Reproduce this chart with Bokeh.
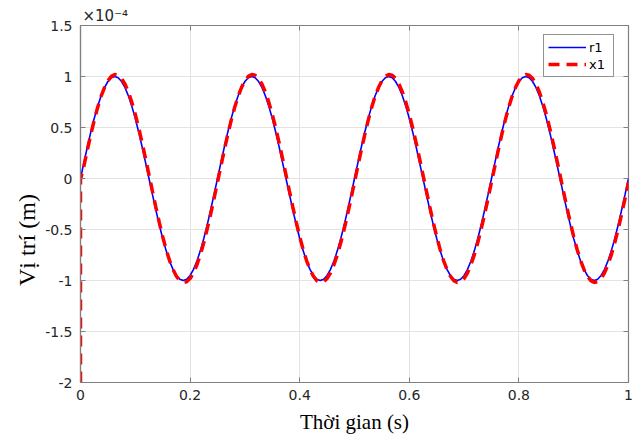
from bokeh.plotting import figure
from bokeh.models import LinearAxis, Legend, LegendItem, FixedTicker, Range1d
from bokeh.embed import file_html
from bokeh.resources import INLINE

# ---- data (position values in units of 1e-4 m) ----
x_ticks = [0, 0.2, 0.4, 0.6, 0.8, 1.0]
x_tick_labels = ["0", "0.2", "0.4", "0.6", "0.8", "1"]
y_ticks = [-2, -1.5, -1, -0.5, 0, 0.5, 1, 1.5]
y_tick_labels = ["-2", "-1.5", "-1", "-0.5", "0", "0.5", "1", "1.5"]

dt = 0.00625
time_s = [round(i * dt, 5) for i in range(161)]

r1 = [
    0.000, 0.156, 0.309, 0.454, 0.588, 0.707, 0.809, 0.891, 0.951, 0.988,
    1.000, 0.988, 0.951, 0.891, 0.809, 0.707, 0.588, 0.454, 0.309, 0.156,
    0.000, -0.156, -0.309, -0.454, -0.588, -0.707, -0.809, -0.891, -0.951, -0.988,
    -1.000, -0.988, -0.951, -0.891, -0.809, -0.707, -0.588, -0.454, -0.309, -0.156,
    0.000, 0.156, 0.309, 0.454, 0.588, 0.707, 0.809, 0.891, 0.951, 0.988,
    1.000, 0.988, 0.951, 0.891, 0.809, 0.707, 0.588, 0.454, 0.309, 0.156,
    0.000, -0.156, -0.309, -0.454, -0.588, -0.707, -0.809, -0.891, -0.951, -0.988,
    -1.000, -0.988, -0.951, -0.891, -0.809, -0.707, -0.588, -0.454, -0.309, -0.156,
    0.000, 0.156, 0.309, 0.454, 0.588, 0.707, 0.809, 0.891, 0.951, 0.988,
    1.000, 0.988, 0.951, 0.891, 0.809, 0.707, 0.588, 0.454, 0.309, 0.156,
    0.000, -0.156, -0.309, -0.454, -0.588, -0.707, -0.809, -0.891, -0.951, -0.988,
    -1.000, -0.988, -0.951, -0.891, -0.809, -0.707, -0.588, -0.454, -0.309, -0.156,
    0.000, 0.156, 0.309, 0.454, 0.588, 0.707, 0.809, 0.891, 0.951, 0.988,
    1.000, 0.988, 0.951, 0.891, 0.809, 0.707, 0.588, 0.454, 0.309, 0.156,
    0.000, -0.156, -0.309, -0.454, -0.588, -0.707, -0.809, -0.891, -0.951, -0.988,
    -1.000, -0.988, -0.951, -0.891, -0.809, -0.707, -0.588, -0.454, -0.309, -0.156,
    0.000,
]

x1_time_s = [0.0] + time_s
x1 = [
    -2.000,
    -0.010, 0.124, 0.281, 0.431, 0.570, 0.696, 0.804, 0.892, 0.958, 1.001,
    1.019, 1.012, 0.981, 0.924, 0.846, 0.746, 0.628, 0.494, 0.349, 0.195,
    0.036, -0.124, -0.281, -0.431, -0.570, -0.696, -0.804, -0.892, -0.958, -1.001,
    -1.019, -1.012, -0.981, -0.924, -0.846, -0.746, -0.628, -0.494, -0.349, -0.195,
    -0.036, 0.124, 0.281, 0.431, 0.570, 0.696, 0.804, 0.892, 0.958, 1.001,
    1.019, 1.012, 0.981, 0.924, 0.846, 0.746, 0.628, 0.494, 0.349, 0.195,
    0.036, -0.124, -0.281, -0.431, -0.570, -0.696, -0.804, -0.892, -0.958, -1.001,
    -1.019, -1.012, -0.981, -0.924, -0.846, -0.746, -0.628, -0.494, -0.349, -0.195,
    -0.036, 0.124, 0.281, 0.431, 0.570, 0.696, 0.804, 0.892, 0.958, 1.001,
    1.019, 1.012, 0.981, 0.924, 0.846, 0.746, 0.628, 0.494, 0.349, 0.195,
    0.036, -0.124, -0.281, -0.431, -0.570, -0.696, -0.804, -0.892, -0.958, -1.001,
    -1.019, -1.012, -0.981, -0.924, -0.846, -0.746, -0.628, -0.494, -0.349, -0.195,
    -0.036, 0.124, 0.281, 0.431, 0.570, 0.696, 0.804, 0.892, 0.958, 1.001,
    1.019, 1.012, 0.981, 0.924, 0.846, 0.746, 0.628, 0.494, 0.349, 0.195,
    0.036, -0.124, -0.281, -0.431, -0.570, -0.696, -0.804, -0.892, -0.958, -1.001,
    -1.019, -1.012, -0.981, -0.924, -0.846, -0.746, -0.628, -0.494, -0.349, -0.195,
    -0.036,
]

series_names = ["r1", "x1"]
x_label = "Thời gian (s)"
y_label = "Vị trí (m)"
exponent_text = "×10⁻⁴"

# ---- figure ----
AX_COL = "#808080"
TXT_COL = "#262626"
TICK_FONT = "DejaVu Sans"

p = figure(width=637, height=437,
           x_range=Range1d(0, 1), y_range=Range1d(-2, 1.5),
           output_backend="svg", toolbar_location=None,
           min_border_left=80, min_border_right=9,
           min_border_top=25, min_border_bottom=55,
           background_fill_color="white", border_fill_color="white")

p.title.text = exponent_text
p.title.align = "left"
p.title.offset = 2
p.title.standoff = 1
p.title.text_font = TICK_FONT
p.title.text_font_size = "15px"
p.title.text_font_style = "normal"
p.title.text_color = TXT_COL

p.outline_line_color = AX_COL
p.outline_line_width = 1.2

for ax in (p.xaxis[0], p.yaxis[0]):
    ax.axis_line_color = AX_COL
    ax.axis_line_width = 1.2
    ax.major_tick_line_color = AX_COL
    ax.major_tick_in = 5
    ax.major_tick_out = 0
    ax.minor_tick_line_color = None
    ax.major_label_text_font = TICK_FONT
    ax.major_label_text_font_size = "14px"
    ax.major_label_text_color = TXT_COL
    ax.axis_label_text_font = "Liberation Serif"
    ax.axis_label_text_font_style = "normal"
    ax.axis_label_text_color = "black"

p.xaxis[0].ticker = FixedTicker(ticks=x_ticks)
p.xaxis[0].major_label_overrides = dict(zip(x_ticks, x_tick_labels))
p.xaxis[0].major_label_standoff = 7
p.xaxis[0].axis_label = x_label
p.xaxis[0].axis_label_text_font_size = "21px"
p.xaxis[0].axis_label_standoff = 7

p.yaxis[0].ticker = FixedTicker(ticks=y_ticks)
p.yaxis[0].major_label_overrides = dict(zip(y_ticks, y_tick_labels))
p.yaxis[0].major_label_standoff = 8
# non-breaking padding shifts the label's visible text down as in the reference
p.yaxis[0].axis_label = y_label + "\u00a0" * 12
p.yaxis[0].axis_label_text_font_size = "24px"
p.yaxis[0].axis_label_standoff = 2

# top and right box edges with inward ticks
top = LinearAxis(ticker=FixedTicker(ticks=x_ticks), axis_line_color=None,
                 major_tick_line_color=AX_COL, major_tick_in=5, major_tick_out=0,
                 minor_tick_line_color=None,
                 major_label_overrides={t: "" for t in x_ticks},
                 major_label_standoff=0)
right = LinearAxis(ticker=FixedTicker(ticks=y_ticks), axis_line_color=None,
                   major_tick_line_color=AX_COL, major_tick_in=5, major_tick_out=0,
                   minor_tick_line_color=None,
                   major_label_overrides={t: "" for t in y_ticks},
                   major_label_standoff=0)
p.add_layout(top, "above")
p.add_layout(right, "right")

p.xgrid.ticker = FixedTicker(ticks=x_ticks)
p.ygrid.ticker = FixedTicker(ticks=y_ticks)
for g in (p.xgrid[0], p.ygrid[0]):
    g.grid_line_color = "#e3e3e3"
    g.grid_line_width = 1

# ---- lines ----
l_r1 = p.line(time_s, r1, line_color="#0000ff", line_width=1.6)
l_x1 = p.line(x1_time_s, x1, line_color="#ff0000", line_width=3.5,
              line_dash="11 7")

legend = Legend(items=[LegendItem(label=series_names[0], renderers=[l_r1]),
                       LegendItem(label=series_names[1], renderers=[l_x1])],
                location=(463, 305),
                border_line_color=TXT_COL, border_line_width=1,
                background_fill_color="white", background_fill_alpha=1,
                label_text_font=TICK_FONT, label_text_font_size="13px",
                label_text_color="black",
                glyph_width=38, glyph_height=16, label_height=16,
                label_standoff=3, padding=4, spacing=1, margin=0)
p.add_layout(legend, "center")

open("out.html", "w").write(file_html(p, INLINE))
